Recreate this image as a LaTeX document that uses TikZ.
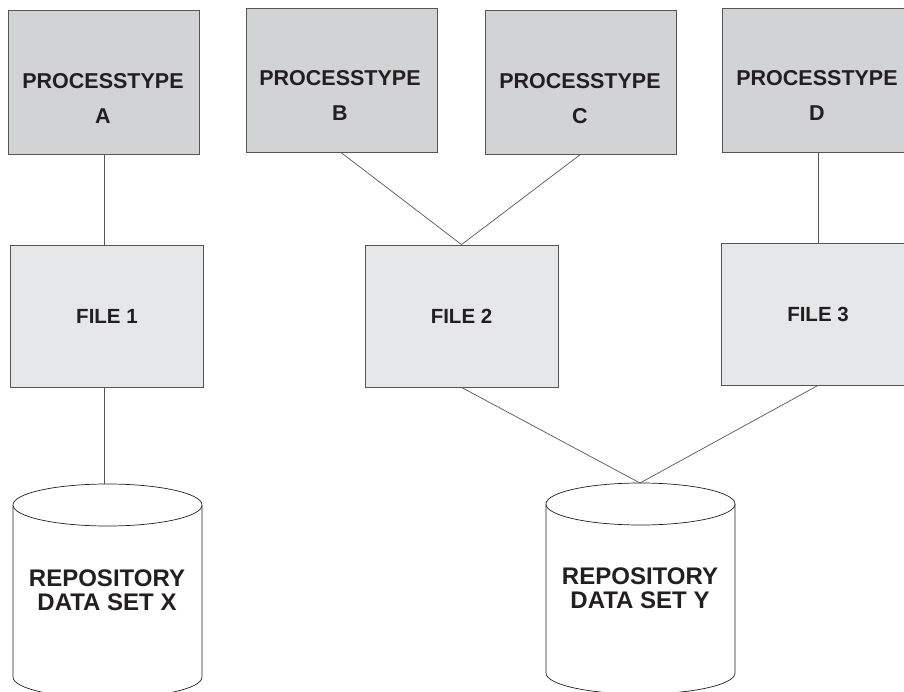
\documentclass[tikz,border=0pt]{standalone}
\usepackage{fontspec}
\setmainfont{Liberation Sans}
\usetikzlibrary{shapes,calc,positioning}
\definecolor{procgray}{RGB}{210,211,213}
\definecolor{filegray}{RGB}{230,231,232}
\definecolor{edgegray}{RGB}{85,85,85}
\definecolor{inkblack}{RGB}{35,31,32}

\begin{document}
\begin{tikzpicture}[x=1pt,y=-1pt,
	procbox/.style={draw=edgegray,fill=procgray,line width=0.8pt,minimum width=191pt,minimum height=144pt},
	proctext/.style={align=center,font=\fontsize{21.5}{35}\selectfont\bfseries,text=inkblack},
	filebox/.style={draw=edgegray,fill=filegray,line width=0.8pt,minimum width=193pt,minimum height=142pt,font=\fontsize{20.5}{26}\selectfont\bfseries,text=inkblack},
	store/.style={draw=inkblack,fill=white,line width=0.7pt},
	storetext/.style={align=center,font=\fontsize{24}{24}\selectfont\bfseries,text=inkblack},
	link/.style={draw=edgegray,line width=0.7pt}]

	\useasboundingbox (0,0) rectangle (904,692);

	\node[procbox]	(A)	at (104,82)		{};
	\node[procbox]	(B)	at (341.5,80.5)	{};
	\node[procbox]	(C)	at (580.5,82)	{};
	\node[procbox]	(D)	at (818,80.5)	{};
	\node[proctext]	(Atxt)	at (103,98)		{PROCESSTYPE\\A};
	\node[proctext]	(Btxt)	at (340,95)		{PROCESSTYPE\\B};
	\node[proctext]	(Ctxt)	at (580,98.5)	{PROCESSTYPE\\C};
	\node[proctext]	(Dtxt)	at (817,95)		{PROCESSTYPE\\D};

	\node[filebox]	(F1)	at (107,316)	{FILE 1};
	\node[filebox]	(F2)	at (461.5,316)	{FILE 2};
	\node[filebox]	(F3)	at (818,314)	{FILE 3};

	% repository data sets
	\draw[store]	(13,505) -- (13,677) arc[start angle=180,end angle=360,x radius=94.5pt,y radius=21pt] -- (202,505);
	\draw[store]	(107.5,505) ellipse [x radius=94.5pt,y radius=21pt];
	\draw[store]	(546,504) -- (546,673) arc[start angle=180,end angle=360,x radius=94.5pt,y radius=21pt] -- (735,504);
	\draw[store]	(640.5,504) ellipse [x radius=94.5pt,y radius=21pt];
	\coordinate	(X)	at (104,484);
	\coordinate	(Y)	at (640,483);
	\node[storetext]	(Xtxt)	at (107,590)	{REPOSITORY\\DATA SET X};
	\node[storetext]	(Ytxt)	at (640,588.5)	{REPOSITORY\\DATA SET Y};

	\draw[link]	(A.south) -- (A.south |- F1.north);
	\draw[link]	(F1.south -| A.south) -- (X);
	\draw[link]	(B.south) -- (F2.north);
	\draw[link]	(C.south) -- (F2.north);
	\draw[link]	(D.south) -- (F3.north);
	\draw[link]	(F2.south) -- (Y);
	\draw[link]	(F3.south) -- (Y);
\end{tikzpicture}
\end{document}
